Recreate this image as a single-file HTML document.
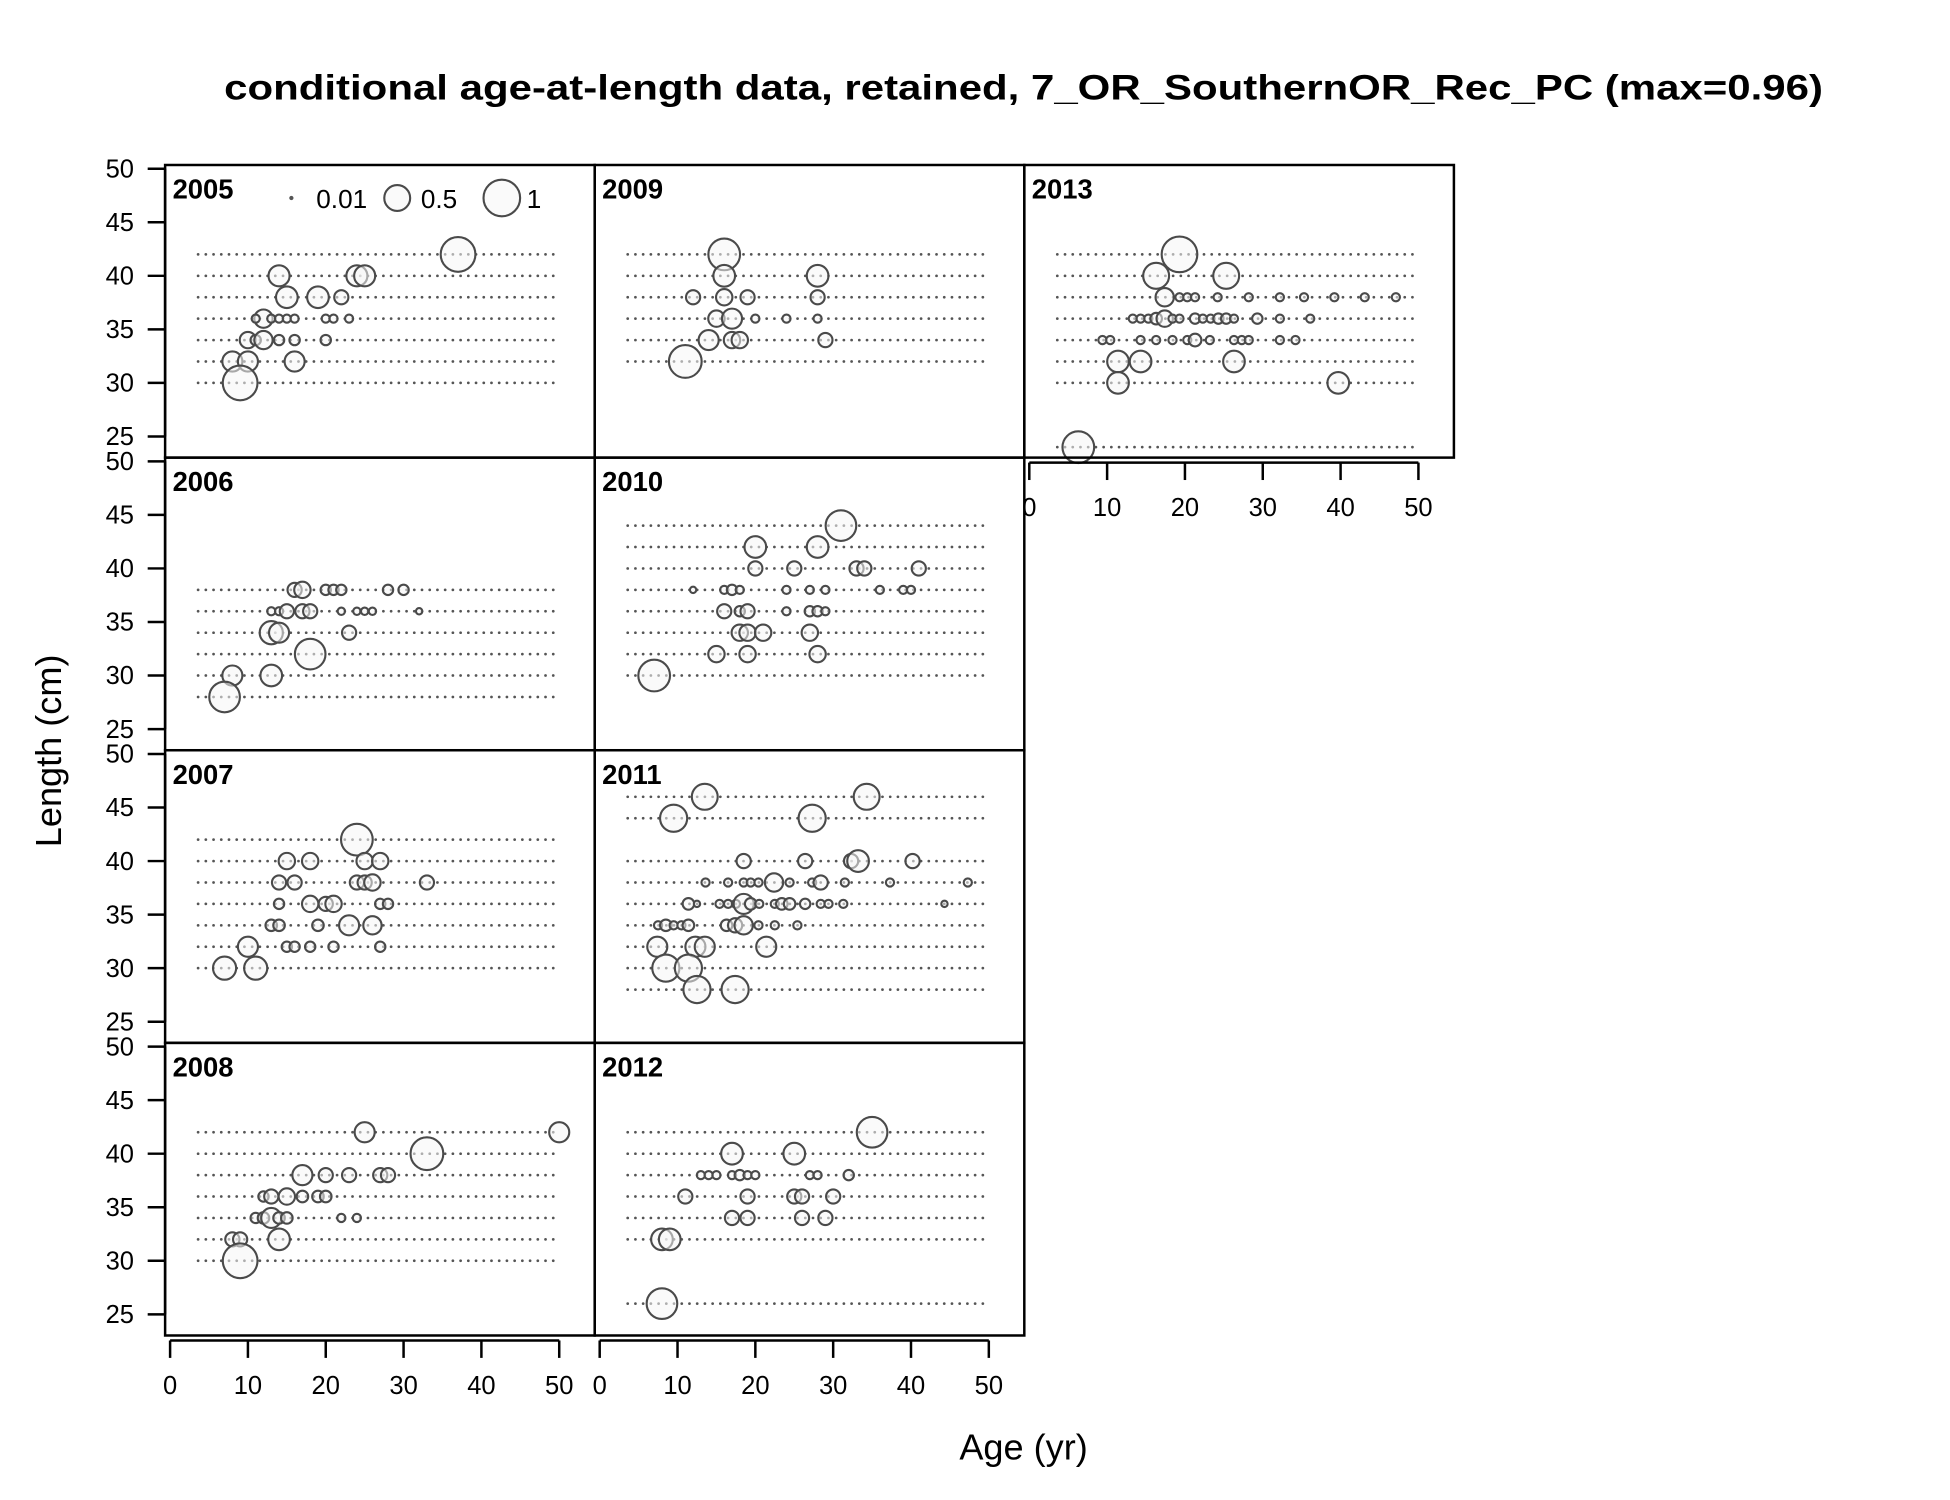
<!DOCTYPE html>
<html><head><meta charset="utf-8"><style>
html,body{margin:0;padding:0;background:#fff}
svg{display:block;font-family:"Liberation Sans",Arial,sans-serif}
</style></head><body>
<svg id="chart" width="1950" height="1500" viewBox="0 0 1566 1204" preserveAspectRatio="xMinYMin meet" xmlns="http://www.w3.org/2000/svg">
<rect x="0" y="0" width="1566" height="1204" fill="#fff"/>
<text x="822" y="80" text-anchor="middle" font-weight="bold" font-size="28" textLength="1284" lengthAdjust="spacingAndGlyphs">conditional age-at-length data, retained, 7_OR_SouthernOR_Rec_PC (max=0.96)</text>
<text transform="translate(49,603) rotate(-90)" text-anchor="middle" font-size="29">Length (cm)</text>
<text x="822" y="1172" text-anchor="middle" font-size="29">Age (yr)</text>
<g id="panels"></g>
</svg>
<script>
const years = [2005,2006,2007,2008,2009,2010,2011,2012,2013];
const panelCols = [0,0,0,0,1,1,1,1,2];
const panelRows = [0,1,2,3,0,1,2,3,0];
const xTicks = [0,10,20,30,40,50];
const yTicks = [25,30,35,40,45,50];
const legendValues = [0.01,0.5,1];
const d2005 = [[37,42,.9],[14,40,.33],[24,40,.33],[25,40,.33],[15,38,.35],[19,38,.35],[22,38,.15],
 [12,36,.25],[11,36,.05],[13,36,.05],[14,36,.05],[15,36,.05],[16,36,.05],[20,36,.05],[21,36,.05],[23,36,.05],
 [10,34,.2],[11,34,.08],[12,34,.25],[14,34,.08],[16,34,.08],[20,34,.08],[8,32,.3],[10,32,.3],[16,32,.3],[9,30,.9]];
const d2006 = [[16,38,.15],[17,38,.2],[20,38,.08],[21,38,.08],[22,38,.08],[28,38,.08],[30,38,.08],
 [13,36,.05],[14,36,.05],[15,36,.15],[17,36,.15],[18,36,.15],[22,36,.04],[24,36,.04],[25,36,.04],[26,36,.04],[32,36,.03],
 [13,34,.4],[14,34,.3],[23,34,.15],[18,32,.7],[8,30,.3],[13,30,.35],[7,28,.7]];
const d2007 = [[24,42,.75],[15,40,.2],[18,40,.2],[25,40,.2],[27,40,.2],[14,38,.15],[16,38,.15],[24,38,.15],[25,38,.15],[26,38,.2],[33,38,.15],
 [14,36,.08],[18,36,.2],[20,36,.15],[21,36,.2],[27,36,.08],[28,36,.08],[13,34,.1],[14,34,.1],[19,34,.1],[23,34,.3],[26,34,.25],
 [10,32,.3],[15,32,.08],[16,32,.08],[18,32,.08],[21,32,.08],[27,32,.08],[7,30,.4],[11,30,.4]];
const d2008 = [[25,42,.3],[50,42,.3],[33,40,.8],[17,38,.3],[20,38,.15],[23,38,.15],[27,38,.15],[28,38,.15],
 [12,36,.08],[13,36,.15],[15,36,.2],[17,36,.1],[19,36,.1],[20,36,.1],[11,34,.08],[12,34,.1],[13,34,.3],[14,34,.1],[15,34,.1],[22,34,.05],[24,34,.05],
 [8,32,.15],[9,32,.15],[14,32,.35],[9,30,.9]];
const d2009 = [[16,42,.75],[16,40,.35],[28,40,.35],[12,38,.15],[16,38,.2],[19,38,.15],[28,38,.15],
 [15,36,.2],[17,36,.3],[20,36,.05],[24,36,.05],[28,36,.05],[14,34,.3],[17,34,.2],[18,34,.2],[29,34,.15],[11,32,.8]];
const d2010 = [[31,44,.7],[20,42,.35],[28,42,.35],[20,40,.15],[25,40,.15],[33,40,.15],[34,40,.15],[41,40,.15],
 [12,38,.03],[16,38,.05],[17,38,.08],[18,38,.05],[24,38,.05],[27,38,.05],[29,38,.05],[36,38,.05],[39,38,.05],[40,38,.05],
 [16,36,.15],[18,36,.08],[19,36,.15],[24,36,.05],[27,36,.08],[28,36,.08],[29,36,.05],
 [18,34,.2],[19,34,.2],[21,34,.2],[27,34,.2],[15,32,.2],[19,32,.2],[28,32,.2],[7,30,.75]];
const d2011 = [[13.5,46,.5],[34.3,46,.5],[9.5,44,.55],[27.3,44,.55],
 [18.5,40,.15],[26.4,40,.15],[32.3,40,.15],[33.2,40,.35],[40.2,40,.15],
 [13.6,38,.05],[16.5,38,.05],[18.5,38,.05],[19.4,38,.05],[20.4,38,.05],[22.4,38,.25],[24.4,38,.05],[27.3,38,.05],[28.4,38,.15],[31.5,38,.05],[37.3,38,.05],[47.3,38,.05],
 [11.4,36,.1],[12.5,36,.03],[15.4,36,.05],[16.5,36,.05],[17.5,36,.05],[18.5,36,.3],[19.4,36,.1],[20.5,36,.05],[22.5,36,.05],[23.4,36,.1],[24.4,36,.1],[26.4,36,.08],[28.4,36,.05],[29.4,36,.05],[31.3,36,.05],[44.3,36,.03],
 [7.5,34,.05],[8.5,34,.1],[9.5,34,.05],[10.5,34,.05],[11.4,34,.1],[16.3,34,.1],[17.4,34,.15],[18.5,34,.25],[20.4,34,.05],[22.5,34,.05],[25.4,34,.05],
 [7.4,32,.3],[12.3,32,.3],[13.5,32,.3],[21.4,32,.3],[8.5,30,.55],[11.4,30,.55],[12.5,28,.55],[17.4,28,.55]];
const d2012 = [[35,42,.7],[17,40,.35],[25,40,.35],[13,38,.05],[14,38,.05],[15,38,.05],[17,38,.05],[18,38,.08],[19,38,.05],[20,38,.05],[27,38,.05],[28,38,.05],[32,38,.08],
 [11,36,.15],[19,36,.15],[25,36,.15],[26,36,.15],[30,36,.15],[17,34,.15],[19,34,.15],[26,34,.15],[29,34,.15],
 [8,32,.35],[9,32,.35],[8,26,.7]];
const d2013 = [[19.3,42,.95],[16.3,40,.5],[25.3,40,.5],
 [17.4,38,.25],[19.3,38,.05],[20.3,38,.05],[21.3,38,.05],[24.2,38,.05],[28.2,38,.05],[32.2,38,.05],[35.3,38,.05],[39.2,38,.05],[43.1,38,.05],[47.1,38,.05],
 [13.3,36,.05],[14.3,36,.05],[15.3,36,.05],[16.3,36,.1],[17.4,36,.2],[18.4,36,.05],[19.3,36,.05],[21.3,36,.08],[22.3,36,.05],[23.3,36,.05],[24.3,36,.08],[25.3,36,.08],[26.3,36,.05],[29.3,36,.08],[32.2,36,.05],[36.1,36,.05],
 [9.4,34,.05],[10.4,34,.05],[14.3,34,.05],[16.3,34,.05],[18.4,34,.05],[20.3,34,.05],[21.3,34,.12],[23.2,34,.05],[26.3,34,.05],[27.3,34,.05],[28.2,34,.05],[32.2,34,.05],[34.2,34,.05],
 [11.4,32,.35],[14.3,32,.35],[26.3,32,.35],[11.4,30,.35],[39.7,30,.35],[6.3,24,.75]];
const panelData = [d2005,d2006,d2007,d2008,d2009,d2010,d2011,d2012,d2013];

const NS = "http://www.w3.org/2000/svg";
const PL = 132.6, PT = 132.5, PW = 345, PH = 235;
const RMAX = 14.7;
function mk(tag, attrs, parent){ const e=document.createElementNS(NS,tag); for(const k in attrs) e.setAttribute(k,attrs[k]); parent.appendChild(e); return e; }
function xScale(c, age){ return PL + c*PW + 4 + age*6.25; }
function yScale(r, len){ return PT + r*PH + 3 + (50-len)*8.6; }
function rScale(p){ return RMAX*Math.sqrt(p); }
const root = document.getElementById('panels');

years.forEach((yr, i) => {
  const c = panelCols[i], r = panelRows[i], d = panelData[i];
  const g = mk('g', {}, root);
  
  
  const lens = [...new Set(d.map(p => p[1]))];
  lens.forEach(L => {
    const ln = mk('line', {x1: xScale(c,3.6), x2: xScale(c,50), y1: yScale(r,L), y2: yScale(r,L), stroke:'#555', 'stroke-width':2.2, 'stroke-dasharray':'0 6.2', 'stroke-linecap':'round'}, g);
    
    
  });
  d.forEach(p => {
    const ci = mk('circle', {cx: xScale(c,p[0]), cy: yScale(r,p[1]), r: rScale(p[2]), fill:'rgba(245,245,245,0.55)', stroke:'#4a4a4a', 'stroke-width':1.7}, g);
    
    
  });
  const box = mk('rect', {x: PL + c*PW, y: PT + r*PH, width: PW, height: PH, fill:'none', stroke:'#000', 'stroke-width':2}, g);
  
  
  const t = mk('text', {x: PL + c*PW + 6, y: PT + r*PH + 27, 'font-weight':'bold', 'font-size':22}, g);
  t.textContent = yr;
  
  
});

for (let r = 0; r < 4; r++) {
  const ga = mk('g', {}, root);
  
  
  mk('line', {x1: PL, x2: PL, y1: yScale(r,50), y2: yScale(r,25), stroke:'#000', 'stroke-width':2}, ga);
  yTicks.forEach(v => {
    const y = yScale(r, v);
    mk('line', {x1: PL-14, x2: PL, y1: y, y2: y, stroke:'#000', 'stroke-width':2}, ga);
    const tx = mk('text', {x: PL-25, y: y+7, 'text-anchor':'end', 'font-size':20.5}, ga);
    tx.textContent = v;
    
    
  });
}
[[0,3],[1,3],[2,0]].forEach(([c, r]) => {
  const base = PT + (r+1)*PH + 4;
  const ga = mk('g', {}, root);
  
  
  mk('line', {x1: xScale(c,0), x2: xScale(c,50), y1: base, y2: base, stroke:'#000', 'stroke-width':2}, ga);
  xTicks.forEach(v => {
    const x = xScale(c, v);
    mk('line', {x1: x, x2: x, y1: base, y2: base+14, stroke:'#000', 'stroke-width':2}, ga);
    const tx = mk('text', {x: x, y: base+43, 'text-anchor':'middle', 'font-size':20.5}, ga);
    tx.textContent = v;
    
    
  });
});
const lg = mk('g', {}, root);


const legX = [234, 319, 403];
legendValues.forEach((v, k) => {
  const cc = mk('circle', {cx: legX[k], cy: 159, r: Math.max(1.7, rScale(v)), fill: v < 0.05 ? '#555' : 'rgba(245,245,245,0.55)', stroke:'#4a4a4a', 'stroke-width': v < 0.05 ? 0 : 1.7}, lg);
  
  
  const tt = mk('text', {x: legX[k] + (k===0?20:k===1?19:20), y: 167, 'font-size':21}, lg);
  tt.textContent = String(v);
  
  
});
</script>
</body></html>
